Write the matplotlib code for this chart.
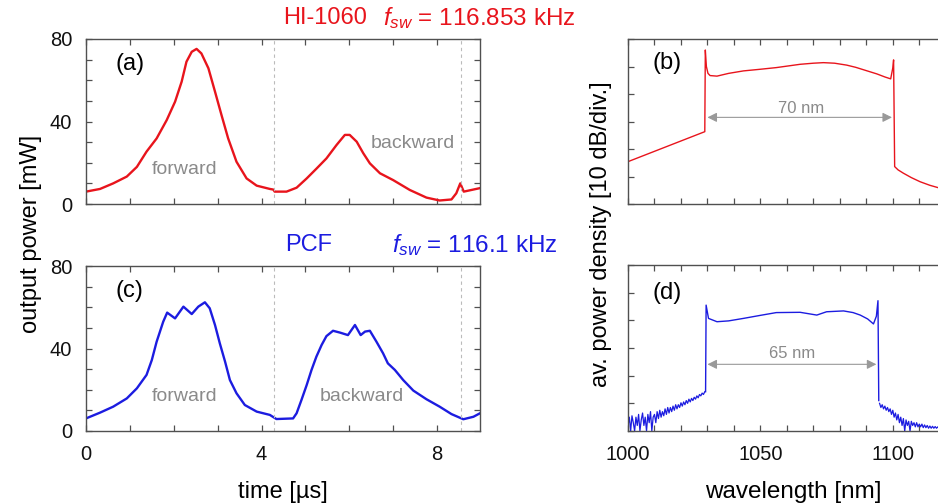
import numpy as np
import matplotlib
matplotlib.use("Agg")
import matplotlib.pyplot as plt
from matplotlib.ticker import MultipleLocator, FixedLocator, NullFormatter

plt.rcParams['font.family'] = ['Liberation Sans', 'DejaVu Sans']
plt.rcParams['mathtext.fontset'] = 'custom'
plt.rcParams['mathtext.it'] = 'Liberation Sans:italic'
plt.rcParams['mathtext.rm'] = 'Liberation Sans'

RED = '#e8141c'
BLUE = '#1c1ce0'
GRAY = '#8a8a8a'

# ---- (a) HI-1060 output power vs time ----
t_a = [0.0, 0.32, 0.62, 0.93, 1.16, 1.38, 1.61, 1.84, 2.03, 2.18, 2.29, 2.41, 2.52,
       2.63, 2.79, 2.94, 3.09, 3.24, 3.43, 3.66, 3.89, 4.19, 4.27, 4.3, 4.57, 4.8,
       5.03, 5.26, 5.48, 5.71, 5.9, 6.01, 6.17, 6.32, 6.47, 6.7, 7.0, 7.38, 7.76,
       8.06, 8.33, 8.44, 8.53, 8.61, 8.98]
P_a = [6.0, 7.3, 10.0, 13.3, 18.0, 25.4, 31.8, 40.7, 49.6, 59.3, 69.0, 73.8, 75.2,
       73.0, 65.8, 54.5, 43.0, 31.8, 20.5, 12.4, 8.9, 7.3, 7.0, 6.0, 6.0, 7.9,
       12.4, 17.3, 22.1, 28.6, 33.5, 33.5, 30.2, 24.6, 19.7, 14.9, 11.6, 6.8, 3.1,
       1.7, 2.2, 5.2, 10.0, 6.0, 7.7]

# ---- (c) PCF output power vs time ----
t_c = [0.0, 0.32, 0.62, 0.93, 1.16, 1.38, 1.5, 1.61, 1.76, 1.85, 2.03, 2.22, 2.41,
       2.56, 2.71, 2.82, 2.94, 3.05, 3.17, 3.28, 3.43, 3.62, 3.89, 4.19, 4.34, 4.72,
       4.8, 4.91, 5.03, 5.14, 5.25, 5.37, 5.48, 5.63, 5.79, 5.97, 6.13, 6.26, 6.36,
       6.47, 6.62, 6.77, 6.88, 7.04, 7.23, 7.46, 7.76, 8.06, 8.33, 8.6, 8.83, 8.98]
P_c = [6.1, 8.9, 11.8, 15.8, 20.7, 27.2, 34.4, 43.3, 53.0, 57.4, 54.6, 60.3, 56.7,
       60.3, 62.4, 59.5, 51.4, 42.5, 33.6, 24.7, 18.3, 12.6, 9.4, 7.8, 5.8, 6.1,
       8.6, 15.0, 22.3, 29.6, 36.0, 41.7, 46.0, 48.6, 47.7, 46.5, 51.4, 46.5, 48.2,
       48.6, 43.3, 37.7, 32.8, 29.6, 24.7, 19.6, 15.4, 11.8, 8.2, 5.7, 6.9, 8.6]

sweep_bounds = [4.28, 8.55]

# ---- (b) HI-1060 spectrum (dB, 10 dB/div) ----
wl_b = [1000, 1029, 1029.2, 1029.6, 1030.2, 1031, 1033.6, 1038, 1043.6, 1050, 1056,
        1065, 1070, 1073.8, 1078, 1082.6, 1086, 1090, 1094, 1097, 1099.2, 1100.0,
        1100.3, 1100.7, 1102, 1104, 1107, 1110.3, 1114, 1118]
S_b = [-44.6, -33.7, -4.0, -10.0, -12.5, -13.3, -13.5, -12.5, -11.6, -11.0, -10.4,
       -9.2, -8.8, -8.6, -8.8, -9.5, -10.3, -11.5, -12.7, -13.8, -14.5, -10.5,
       -7.6, -46.4, -47.6, -48.8, -50.4, -51.9, -53.2, -54.3]

# ---- (d) PCF spectrum ----
wl_d_left = list(np.arange(1000, 1029.01, 0.5))
S_d_left = [-58, -55, -60, -54.5, -57, -60, -55, -58, -54, -60, -56, -53.5, -58, -55,
            -60, -54, -57, -53, -60, -55, -54, -57, -53, -55.5, -52.5, -55, -53,
            -54.5, -52, -54, -51.5, -53.5, -51.5, -53, -51, -52.5, -50.5, -52,
            -50.5, -51.5, -49.8, -51, -49.5, -50.5, -49, -50, -48.5, -49.5, -48.2,
            -49, -47.8, -48.5, -47.3, -48, -46.8, -47.3, -46.3, -46.8, -45.8]
wl_d_mid = [1029.3, 1029.5, 1030.4, 1033.6, 1038, 1043.6, 1050, 1056, 1065, 1071.3,
            1075, 1081.4, 1085, 1087.7, 1090.5, 1092.7, 1093.8, 1094.4, 1094.7]
S_d_mid = [-45.8, -14.5, -19.3, -20.5, -20.2, -19.3, -18.2, -17.2, -17.1, -18.1,
           -16.9, -16.6, -17.2, -18.1, -19.5, -21.3, -18.5, -12.9, -49.0]
wl_d_right = list(np.arange(1095, 1118.01, 0.5))
S_d_right = [-50, -51.5, -50.5, -52, -51, -52.5, -51.5, -53, -52, -54, -52.5, -55,
             -53.5, -56, -54, -57, -55, -58, -55.5, -60, -56, -58, -56.5, -60,
             -56.5, -58, -57, -58.5, -57, -58.5, -57.5, -58.5, -57.5, -58.8, -57.8,
             -58.8, -58, -59, -58.2, -59, -58.3, -59, -58.4, -59, -58.5, -59.2, -58.6]

W = 938 / 100
H = 504 / 100
fig = plt.figure(figsize=(W, H), dpi=100)

def px_axes(l, r, t, b):
    return fig.add_axes([l / 938, 1 - b / 504, (r - l) / 938, (b - t) / 504])

ax_a = px_axes(86, 480, 39, 204)
ax_c = px_axes(86, 480, 266, 431)
ax_b = px_axes(628, 959, 39, 204)
ax_d = px_axes(628, 959, 265, 431)

def style(ax):
    for s in ax.spines.values():
        s.set_color('#505050')
        s.set_linewidth(1.0)
    ax.tick_params(which='both', direction='in', top=True, right=True,
                   length=4.5, width=0.9, color='#505050', labelsize=14.5,
                   labelcolor='#111111', pad=10)

for ax, t, P, col in [(ax_a, t_a, P_a, RED), (ax_c, t_c, P_c, BLUE)]:
    style(ax)
    ax.plot(t, P, color=col, lw=1.7)
    for xb in sweep_bounds:
        ax.axvline(xb, color='#bbbbbb', lw=0.8, ls=(0, (3, 3)))
    ax.set_xlim(0, 8.98)
    ax.set_ylim(0, 80)
    ax.xaxis.set_major_locator(FixedLocator([0, 4, 8]))
    ax.xaxis.set_minor_locator(MultipleLocator(1))
    ax.yaxis.set_major_locator(FixedLocator([0, 40, 80]))
    ax.yaxis.set_minor_locator(MultipleLocator(10))

ax_a.xaxis.set_major_formatter(NullFormatter())
ax_c.set_xlabel('time [µs]', fontsize=17, labelpad=12)

ax_a.text(1.0, 68, '(a)', fontsize=17, ha='center', va='center')
ax_c.text(1.0, 68, '(c)', fontsize=17, ha='center', va='center')
ax_a.text(2.25, 16.5, 'forward', color=GRAY, fontsize=14, ha='center', va='center')
ax_a.text(7.45, 29.5, 'backward', color=GRAY, fontsize=14, ha='center', va='center')
ax_c.text(2.25, 16.5, 'forward', color=GRAY, fontsize=14, ha='center', va='center')
ax_c.text(6.28, 16.5, 'backward', color=GRAY, fontsize=14, ha='center', va='center')

# spectra
style(ax_b)
style(ax_d)
ax_b.plot(wl_b, S_b, color=RED, lw=1.0)
ax_d.plot(wl_d_left, S_d_left, color=BLUE, lw=0.9)
ax_d.plot(wl_d_mid, S_d_mid, color=BLUE, lw=1.0)
ax_d.plot(wl_d_right, S_d_right, color=BLUE, lw=0.9)
for ax in (ax_b, ax_d):
    ax.set_xlim(1000, 1125)
    ax.set_ylim(-60, 0)
    ax.xaxis.set_major_locator(FixedLocator([1000, 1050, 1100]))
    ax.xaxis.set_minor_locator(MultipleLocator(10))
    ax.yaxis.set_major_locator(MultipleLocator(10))
    ax.yaxis.set_major_formatter(NullFormatter())
    ax.spines['right'].set_visible(False)
ax_b.xaxis.set_major_formatter(NullFormatter())
ax_d.set_xlabel('wavelength [nm]', fontsize=17.5, labelpad=12)

ax_b.text(1014.7, -8.8, '(b)', fontsize=17, ha='center', va='center')
ax_d.text(1014.7, -10.2, '(d)', fontsize=17, ha='center', va='center')

arrow_kw = dict(arrowstyle='<|-|>', color='#999999', lw=0.8, mutation_scale=14,
                shrinkA=0, shrinkB=0)
ax_b.annotate('', xy=(1030, -28.5), xytext=(1099.7, -28.5), arrowprops=arrow_kw)
ax_b.text(1065.5, -25.2, '70 nm', color=GRAY, fontsize=12, ha='center', va='center')
ax_d.annotate('', xy=(1030, -35.9), xytext=(1093.8, -35.9), arrowprops=arrow_kw)
ax_d.text(1062, -31.9, '65 nm', color=GRAY, fontsize=12, ha='center', va='center')

# figure-level labels and titles
fig.text(31 / 938, 1 - 234 / 504, 'output power [mW]', rotation=90, fontsize=17,
         ha='center', va='center')
fig.text(601 / 938, 1 - 234 / 504, 'av. power density [10 dB/div.]', rotation=90,
         fontsize=17, ha='center', va='center')

fig.text(325 / 938, 1 - 18 / 504, 'HI-1060', color=RED, fontsize=17, ha='center', va='center')
fig.text(383 / 938, 1 - 18 / 504, r'$f_{sw}$ = 116.853 kHz', color=RED, fontsize=17.5,
         ha='left', va='center')
fig.text(309 / 938, 1 - 245 / 504, 'PCF', color=BLUE, fontsize=17, ha='center', va='center')
fig.text(392 / 938, 1 - 245 / 504, r'$f_{sw}$ = 116.1 kHz', color=BLUE, fontsize=17.5,
         ha='left', va='center')

fig.savefig('out.png', dpi=100)
